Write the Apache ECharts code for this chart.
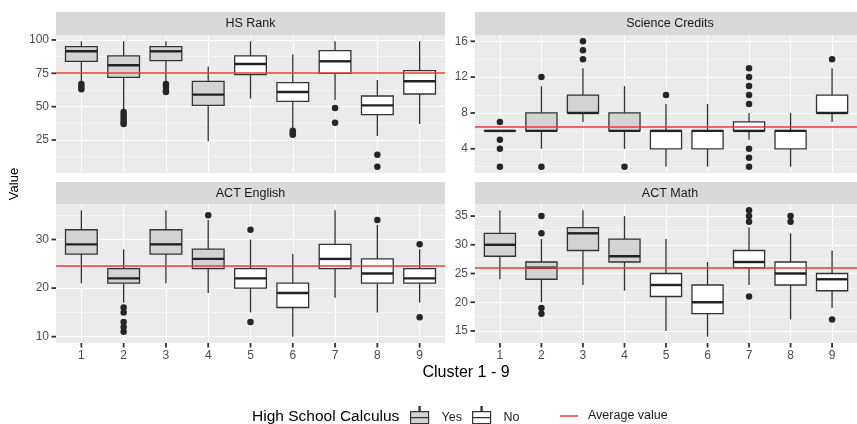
<!DOCTYPE html>
<html><head><meta charset="utf-8">
<script src="https://cdn.jsdelivr.net/npm/echarts@6/dist/echarts.min.js"></script>
<style>html,body{margin:0;padding:0;background:#fff}#c{width:857px;height:424px}</style>
</head><body><div id="c"></div>
<script>
// ---------------- DATA ----------------
const clusters = ['1','2','3','4','5','6','7','8','9'];
const calculus = ['Yes','Yes','Yes','Yes','No','No','No','No','No'];
const panelNames = ['HS Rank','Science Credits','ACT English','ACT Math'];

// [lower whisker, Q1, median, Q3, upper whisker] per cluster
const hsRankStats = [[69,84,91.5,95,99],[48,72,81,88,99],[69,84.5,91.5,95,99],[24,51,59,69,80],[56,74,82,88,99],[34,54,61,68,89],[55,75,84,92,99],[28,44,51,58,70],[37,59.5,69,77,99]];
const hsRankOutliers = [[67,65,63],[46,44,42,40,38,37],[67,65,62,61],[],[],[32,30,29],[49,38],[14,5],[]];
const hsRankAverage = 75.3;
const hsRankTicks = [25,50,75,100];
const hsRankMinorTicks = [12.5,37.5,62.5,87.5];

const scienceStats = [[6,6,6,6,6],[4,6,6,8,11],[7,8,8,10,13],[4,6,6,8,11],[2,4,6,6,9],[2,4,6,6,9],[5,6,6,7,8],[2,4,6,6,8],[7,8,8,10,13]];
const scienceOutliers = [[7,5,4,2],[12,2],[16,15,14],[2],[10],[],[13,12,11,10,9,4,3,2],[],[14]];
const scienceAverage = 6.45;
const scienceTicks = [4,8,12,16];
const scienceMinorTicks = [2,6,10,14];

const englishStats = [[21,27,29,32,36],[17,21,22,24,28],[21,27,29,32,36],[19,24,26,28,34],[15,20,22,24,30],[10,16,19,21,27],[18,24,26,29,36],[15,21,23,26,33],[17,21,22,24,28]];
const englishOutliers = [[],[16,15,13,12,11],[],[35],[32,13],[],[],[34],[29,14]];
const englishAverage = 24.6;
const englishTicks = [10,20,30];
const englishMinorTicks = [15,25,35];

const mathStats = [[24,28,30,32,36],[20,24,26,27,31],[23,29,32,33,36],[22,27,28,31,35],[15,21,23,25,31],[14,18,20,23,27],[23,26,27,29,33],[17,23,25,27,32],[19,22,24,25,29]];
const mathOutliers = [[],[35,32,19,18],[],[],[],[],[36,35,34,21],[35,34],[17]];
const mathAverage = 26.0;
const mathTicks = [15,20,25,30,35];
const mathMinorTicks = [17.5,22.5,27.5,32.5];

const legendTitle = 'High School Calculus';
const averageName = 'Average value';
const xTitle = 'Cluster 1 - 9';
const yTitle = 'Value';

// ---------------- LAYOUT / STYLE ----------------
const FONT = 'Liberation Sans, Arial, Helvetica, sans-serif';
const PANEL_BG = '#EBEBEB', STRIP_BG = '#D9D9D9', GRID = '#FFFFFF';
const FILL = {Yes:'#D3D3D3', No:'#FFFFFF'};
const EDGE = '#333333';
const RED = '#EE3B32';
const BOX_HALF = 0.375;
const TICK_LEN = 4.5;
const TICK_W = 1.8;
const X_MIN = 0.4, X_MAX = 9.6;
const layout = [
  {left:56,  top:35,  width:389, height:138, stripTop:12,  bottomRow:false},
  {left:475, top:35,  width:390, height:138, stripTop:12,  bottomRow:false},
  {left:56,  top:204, width:389, height:139, stripTop:182, bottomRow:true},
  {left:475, top:204, width:390, height:139, stripTop:182, bottomRow:true}
];
const panels = [
  {stats:hsRankStats, outliers:hsRankOutliers, avg:hsRankAverage, ticks:hsRankTicks, minor:hsRankMinorTicks},
  {stats:scienceStats, outliers:scienceOutliers, avg:scienceAverage, ticks:scienceTicks, minor:scienceMinorTicks},
  {stats:englishStats, outliers:englishOutliers, avg:englishAverage, ticks:englishTicks, minor:englishMinorTicks},
  {stats:mathStats, outliers:mathOutliers, avg:mathAverage, ticks:mathTicks, minor:mathMinorTicks}
];
const xVals = clusters.map((c, i) => i + 1);

function renderBox(params, api) {
  const x = api.value(0);
  const lo = api.value(1), q1 = api.value(2), med = api.value(3), q3 = api.value(4), hi = api.value(5);
  const tl = api.coord([x - BOX_HALF, q3]);
  const br = api.coord([x + BOX_HALF, q1]);
  const pHi = api.coord([x, hi]), pQ3 = api.coord([x, q3]), pQ1 = api.coord([x, q1]), pLo = api.coord([x, lo]);
  const mL = api.coord([x - BOX_HALF, med]), mR = api.coord([x + BOX_HALF, med]);
  const ls = {stroke: EDGE, lineWidth: 1.3};
  return {type:'group', children:[
    {type:'line', shape:{x1:pHi[0], y1:pHi[1], x2:pQ3[0], y2:pQ3[1]}, style:ls},
    {type:'line', shape:{x1:pQ1[0], y1:pQ1[1], x2:pLo[0], y2:pLo[1]}, style:ls},
    {type:'rect', shape:{x:tl[0], y:tl[1], width:br[0]-tl[0], height:Math.max(br[1]-tl[1], 0.01)}, style:{fill:api.visual('color'), stroke:EDGE, lineWidth:1.3}},
    {type:'line', shape:{x1:mL[0], y1:mL[1], x2:mR[0], y2:mR[1]}, style:{stroke:'#222', lineWidth:2.4}}
  ]};
}

const grid = [], xAxis = [], yAxis = [], series = [], graphic = [], yRanges = [];
panels.forEach((p, i) => {
  const L = layout[i];
  grid.push({left:L.left, top:L.top, width:L.width, height:L.height, show:true, backgroundColor:PANEL_BG, borderWidth:0, containLabel:false});
  let all = [];
  p.stats.forEach(s => all = all.concat(s));
  p.outliers.forEach(o => all = all.concat(o));
  const dmin = Math.min(...all), dmax = Math.max(...all), pad = (dmax - dmin) * 0.05;
  const ymin = dmin - pad, ymax = dmax + pad;
  yRanges.push([ymin, ymax]);
  xAxis.push({type:'value', gridIndex:i, min:X_MIN, max:X_MAX,
    axisLine:{show:false},
    axisTick:{show:false, customValues:xVals},
    axisLabel:{show:L.bottomRow, customValues:xVals, formatter:v => clusters[Math.round(v)-1], margin:7, fontSize:12, color:'#4D4D4D', fontFamily:FONT},
    splitLine:{show:true, lineStyle:{color:GRID, width:1.1}}
  });
  yAxis.push({type:'value', gridIndex:i, min:ymin, max:ymax,
    axisLine:{show:false},
    axisTick:{show:false, customValues:p.ticks},
    axisLabel:{show:true, customValues:p.ticks, margin:7, fontSize:12, color:'#4D4D4D', fontFamily:FONT},
    splitLine:{show:true, lineStyle:{color:GRID, width:1.1}}
  });
  yAxis.push({type:'value', gridIndex:i, min:ymin, max:ymax, position:'left',
    axisLine:{show:false},
    axisTick:{show:false, customValues:p.minor},
    axisLabel:{show:false, customValues:p.minor},
    splitLine:{show:true, lineStyle:{color:GRID, width:0.55}}
  });
  ['Yes','No'].forEach(g => {
    const data = [];
    p.stats.forEach((s, k) => { if (calculus[k] === g) data.push([xVals[k]].concat(s)); });
    series.push({type:'custom', name:g, xAxisIndex:i, yAxisIndex:2*i, renderItem:renderBox,
      encode:{x:0, y:[1,2,3,4,5]}, itemStyle:{color:FILL[g], borderColor:EDGE, borderWidth:1.3},
      data:data, z:3, silent:true});
  });
  const pts = [];
  p.outliers.forEach((o, k) => o.forEach(v => pts.push([xVals[k], v])));
  series.push({type:'scatter', name:'outlier', xAxisIndex:i, yAxisIndex:2*i, data:pts, symbolSize:6.5,
    itemStyle:{color:'#262626', opacity:1}, z:4, silent:true});
  series.push({type:'line', name:averageName, xAxisIndex:i, yAxisIndex:2*i, data:[], z:5,
    itemStyle:{color:RED}, lineStyle:{color:RED},
    markLine:{silent:true, symbol:'none', label:{show:false}, lineStyle:{color:RED, width:1.5, type:'solid'},
      data:[{yAxis:p.avg}], animation:false}});
  // strip
  const sh = L.top - L.stripTop;
  graphic.push({type:'rect', shape:{x:L.left, y:L.stripTop, width:L.width, height:sh}, style:{fill:STRIP_BG}, silent:true});
  graphic.push({type:'text', x:L.left + L.width/2, y:L.stripTop + sh/2 + 0.5, silent:true,
    style:{text:panelNames[i], align:'center', verticalAlign:'middle', fontSize:12.5, fill:'#1A1A1A', fontFamily:FONT}});
});

graphic.push({type:'text', x:466, y:373, silent:true,
  style:{text:xTitle, align:'center', verticalAlign:'middle', fontSize:16, fill:'#000', fontFamily:FONT}});
graphic.push({type:'text', x:14, y:184, rotation:Math.PI/2, silent:true,
  style:{text:yTitle, align:'center', verticalAlign:'middle', fontSize:13, fill:'#000', fontFamily:FONT}});
graphic.push({type:'text', x:252, y:417, silent:true,
  style:{text:legendTitle, align:'left', verticalAlign:'middle', fontSize:15.5, fill:'#000', fontFamily:FONT}});

const BOX_ICON = 'path://M8.4,0L9.6,0L9.6,5L8.4,5ZM0,5L18,5L18,11L0,11ZM0,11L18,11L18,17L0,17ZM8.4,17L9.6,17L9.6,22L8.4,22Z';

const option = {
  animation:false,
  backgroundColor:'#FFFFFF',
  grid:grid, xAxis:xAxis, yAxis:yAxis, series:series, graphic:graphic,
  legend:[
    {data:[{name:'Yes', icon:BOX_ICON},{name:'No', icon:BOX_ICON}], left:410, top:406, padding:0,
      itemWidth:18, itemHeight:22, itemGap:10, selectedMode:false,
      itemStyle:{borderColor:EDGE, borderWidth:1.2},
      textStyle:{fontSize:12.5, color:'#1A1A1A', fontFamily:FONT, padding:[0,0,0,8]}},
    {data:[{name:averageName, icon:'rect'}], left:560, top:409.5, padding:0,
      itemWidth:18, itemHeight:1.5, selectedMode:false,
      textStyle:{fontSize:12.5, color:'#1A1A1A', fontFamily:FONT, padding:[0,0,0,5]}}
  ]
};
const chart = echarts.init(document.getElementById('c'), null, {renderer:'canvas'});
chart.setOption(option);

// axis tick marks, positioned through the library's own axis scales
const tickGraphics = [];
panels.forEach((p, i) => {
  const finder = {xAxisIndex:i, yAxisIndex:2*i};
  p.ticks.forEach(v => {
    const pt = chart.convertToPixel(finder, [X_MIN, v]);
    tickGraphics.push({type:'rect', z:100, silent:true,
      shape:{x:pt[0]-TICK_LEN, y:pt[1]-TICK_W/2, width:TICK_LEN, height:TICK_W}, style:{fill:EDGE}});
  });
  if (layout[i].bottomRow) {
    xVals.forEach(v => {
      const pt = chart.convertToPixel(finder, [v, yRanges[i][0]]);
      tickGraphics.push({type:'rect', z:100, silent:true,
        shape:{x:pt[0]-TICK_W/2, y:pt[1], width:TICK_W, height:TICK_LEN}, style:{fill:EDGE}});
    });
  }
});
chart.setOption({graphic: graphic.concat(tickGraphics)});
</script></body></html>
